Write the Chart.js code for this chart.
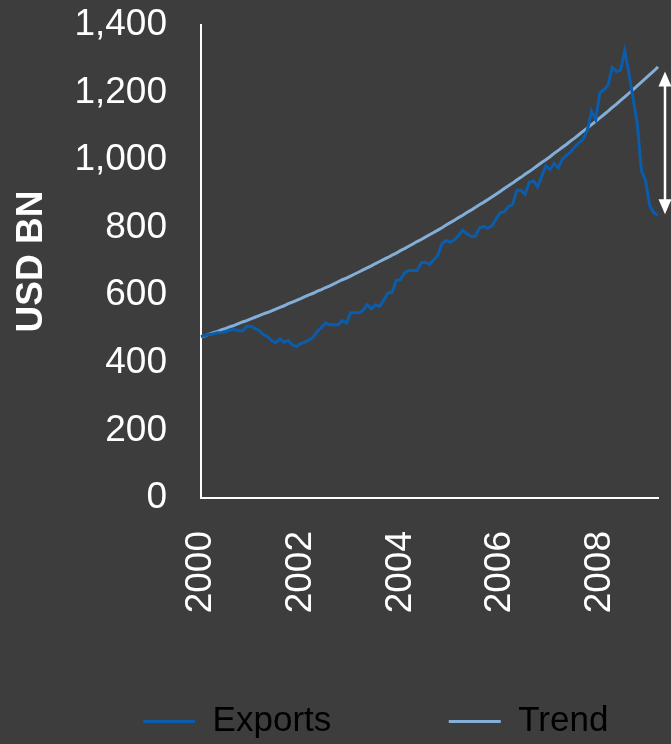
<!DOCTYPE html>
<html>
<head>
<meta charset="utf-8">
<script src="https://cdn.jsdelivr.net/npm/chart.js@4.4.1/dist/chart.umd.min.js"></script>
<style>
  html, body { margin: 0; padding: 0; background: #3d3d3d; }
  #wrap { width: 671px; height: 744px; }
  canvas { display: block; }
</style>
</head>
<body>
<div id="wrap"><canvas id="c" width="671" height="744"></canvas></div>
<script>
// ---- data (monthly, Jan 2000 – Mar 2009), USD BN ----
const exportsValues = [
  478, 481, 484, 486, 489, 490, 493, 497, 499, 495, 495, 508,
  508, 502, 496, 483, 478, 466, 459, 471, 461, 466, 453, 448,
  458, 461, 468, 476, 493, 505, 518, 513, 513, 513, 525, 518,
  548, 548, 548, 555, 572, 560, 572, 567, 586, 607, 609, 644,
  646, 667, 673, 673, 673, 696, 698, 691, 705, 718, 753, 762,
  757, 764, 778, 792, 782, 774, 774, 799, 804, 799, 805, 825,
  844, 847, 863, 868, 911, 911, 899, 934, 939, 921, 952, 983,
  972, 990, 977, 1003, 1015, 1024, 1040, 1052, 1062, 1089, 1145, 1120,
  1199, 1209, 1222, 1275, 1262, 1267, 1324, 1257, 1183, 1109, 970, 940,
  866, 844, 837
];
const trendValues = [
  476, 480, 485, 489, 493, 498, 502, 507, 511, 516, 521, 525,
  530, 535, 540, 545, 549, 554, 559, 564, 569, 575, 580, 585,
  590, 596, 601, 606, 612, 617, 623, 628, 634, 640, 646, 651,
  657, 663, 669, 675, 681, 687, 694, 700, 706, 712, 719, 725,
  732, 738, 745, 752, 759, 765, 772, 779, 786, 793, 800, 808,
  815, 822, 830, 837, 845, 852, 860, 868, 875, 883, 891, 899,
  907, 916, 924, 932, 941, 949, 958, 966, 975, 984, 993, 1001,
  1010, 1020, 1029, 1038, 1047, 1057, 1066, 1076, 1086, 1095, 1105, 1115,
  1125, 1135, 1145, 1156, 1166, 1177, 1187, 1198, 1209, 1220, 1231, 1242,
  1253, 1264, 1276
];
const yearTicks = ['2000', '2002', '2004', '2006', '2008'];
const seriesNames = ['Exports', 'Trend'];
const gapArrow = [1262, 840];   // double arrow: trend vs exports at the end

// category labels: one per month
const months = [];
for (let y = 2000; y <= 2009; y++) {
  for (let m = 1; m <= 12; m++) {
    if (months.length < exportsValues.length) months.push(y + '-' + String(m).padStart(2, '0'));
  }
}

const WHITE = '#ffffff';
const EXPORT_COLOR = '#0b5cab';
const TREND_COLOR = '#82aed8';
const FONT = "'Liberation Sans', Arial, Helvetica, sans-serif";

Chart.defaults.font.family = FONT;
Chart.defaults.color = WHITE;

const bgPlugin = {
  id: 'bg',
  beforeDraw(chart) {
    const ctx = chart.ctx;
    ctx.save();
    ctx.fillStyle = '#3d3d3d';
    ctx.fillRect(0, 0, chart.width, chart.height);
    ctx.restore();
  }
};

const arrowPlugin = {
  id: 'gapArrow',
  afterDatasetsDraw(chart) {
    const ys = chart.scales.y;
    const ctx = chart.ctx;
    const x = chart.chartArea.right + 7;
    const y1 = ys.getPixelForValue(gapArrow[0]);
    const y2 = ys.getPixelForValue(gapArrow[1]);
    const head = 15, half = 6.5;
    ctx.save();
    ctx.strokeStyle = WHITE;
    ctx.fillStyle = WHITE;
    ctx.lineWidth = 2.5;
    ctx.beginPath();
    ctx.moveTo(x, y1 + head - 1);
    ctx.lineTo(x, y2 - head + 1);
    ctx.stroke();
    ctx.beginPath();
    ctx.moveTo(x, y1);
    ctx.lineTo(x - half, y1 + head);
    ctx.lineTo(x + half, y1 + head);
    ctx.closePath();
    ctx.fill();
    ctx.beginPath();
    ctx.moveTo(x, y2);
    ctx.lineTo(x - half, y2 - head);
    ctx.lineTo(x + half, y2 - head);
    ctx.closePath();
    ctx.fill();
    ctx.restore();
  }
};

const chart = new Chart(document.getElementById('c'), {
  type: 'line',
  data: {
    labels: months,
    datasets: [
      {
        label: seriesNames[0],
        data: exportsValues,
        borderColor: EXPORT_COLOR,
        backgroundColor: EXPORT_COLOR,
        borderWidth: 3,
        pointRadius: 0,
        tension: 0,
        fill: false,
        order: 1
      },
      {
        label: seriesNames[1],
        data: trendValues,
        borderColor: TREND_COLOR,
        backgroundColor: TREND_COLOR,
        borderWidth: 3,
        pointRadius: 0,
        tension: 0,
        fill: false,
        order: 2
      }
    ]
  },
  options: {
    responsive: false,
    maintainAspectRatio: false,
    animation: false,
    layout: { padding: { left: 0, right: 13, top: 25, bottom: -5 } },
    scales: {
      x: {
        type: 'category',
        grid: { display: false, drawTicks: false },
        border: { display: true, color: WHITE, width: 2 },
        ticks: {
          autoSkip: false,
          minRotation: 90,
          maxRotation: 90,
          padding: 33,
          color: WHITE,
          font: { size: 37 },
          callback: function (val, idx) {
            const lab = months[idx];
            if (lab && lab.endsWith('-01') && yearTicks.includes(lab.slice(0, 4))) return lab.slice(0, 4);
            return null;
          }
        },
        afterFit(s) { s.height = 182; s.paddingLeft = 0; s.paddingRight = 0; }
      },
      y: {
        min: 0,
        max: 1400,
        grid: { display: false, drawTicks: false },
        border: { display: true, color: WHITE, width: 2 },
        ticks: {
          stepSize: 200,
          padding: 34,
          color: WHITE,
          font: { size: 37 },
          callback: (v) => Number(v).toLocaleString('en-US')
        },
        title: {
          display: true,
          text: 'USD BN',
          color: WHITE,
          font: { size: 37, weight: 'bold' },
          padding: { top: 10, bottom: 0 }
        },
        afterFit(s) { s.width = 201; s.paddingTop = 0; s.paddingBottom = 0; }
      }
    },
    plugins: {
      tooltip: { enabled: false },
      legend: {
        position: 'bottom',
        align: 'center',
        onClick: () => {},
        labels: {
          color: WHITE,
          font: { size: 35 },
          boxWidth: 52,
          boxHeight: 3,
          padding: 24,
          generateLabels(ch) {
            const spacer = () => ({ text: '', fillStyle: 'rgba(0,0,0,0)', strokeStyle: 'rgba(0,0,0,0)', lineWidth: 0, hidden: false });
            const item = (i) => ({
              text: ch.data.datasets[i].label,
              fillStyle: ch.data.datasets[i].borderColor,
              strokeStyle: ch.data.datasets[i].borderColor,
              lineWidth: 0,
              hidden: false,
              datasetIndex: i
            });
            return [spacer(), item(0), spacer(), item(1)];
          }
        }
      }
    }
  },
  plugins: [bgPlugin, arrowPlugin]
});
</script>
</body>
</html>
